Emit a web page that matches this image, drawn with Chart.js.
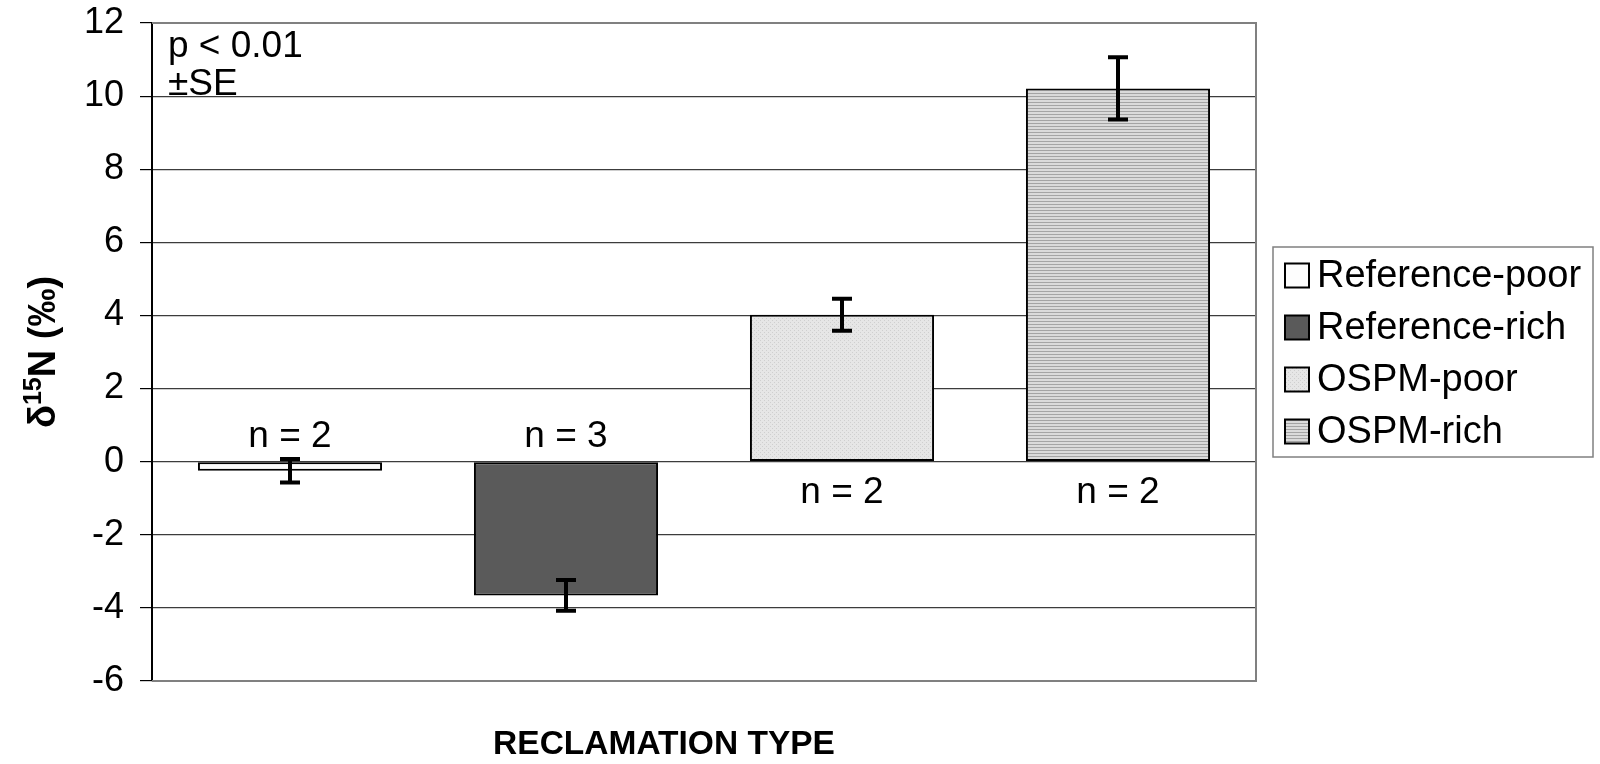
<!DOCTYPE html>
<html>
<head>
<meta charset="utf-8">
<script src="https://cdn.jsdelivr.net/npm/chart.js@4.4.0/dist/chart.umd.min.js"></script>
<style>
  html, body { margin: 0; padding: 0; background: #fff; }
  #wrap { width: 1600px; height: 764px; }
</style>
</head>
<body>
<div id="wrap"><canvas id="grafico" width="1600" height="764"></canvas></div>
<script>
// valores
const series = ['Reference-poor', 'Reference-rich', 'OSPM-poor', 'OSPM-rich'];
const meanValues = [-0.25, -3.66, 4.02, 10.21];
const seValues = [0.32, 0.42, 0.44, 0.85];
const nLabels = ['n = 2', 'n = 3', 'n = 2', 'n = 2'];
const notes = ['p < 0.01', '±SE'];
const yMin = -6, yMax = 12, yStep = 2;

const FONT = '"Liberation Sans", Arial, sans-serif';

// padrões de preenchimento (pontilhado e listrado)
function padraoPontos() {
  const c = document.createElement('canvas');
  c.width = 4; c.height = 4;
  const g = c.getContext('2d');
  g.fillStyle = '#e6e6e6'; g.fillRect(0, 0, 4, 4);
  g.fillStyle = '#cfcfcf'; g.fillRect(0, 0, 1, 1); g.fillRect(2, 2, 1, 1);
  return g.createPattern(c, 'repeat');
}
function padraoListras() {
  const c = document.createElement('canvas');
  c.width = 4; c.height = 3;
  const g = c.getContext('2d');
  g.fillStyle = '#dadada'; g.fillRect(0, 0, 4, 3);
  g.fillStyle = '#a4a4a4'; g.fillRect(0, 0, 4, 1);
  return g.createPattern(c, 'repeat');
}
const fills = ['#fdfdfd', '#5a5a5a', padraoPontos(), padraoListras()];

// moldura da área do gráfico, barras de erro, textos e legenda
const extras = {
  id: 'extras',
  beforeDatasetsDraw(chart) {
    const { ctx, chartArea: a } = chart;
    ctx.save();
    ctx.strokeStyle = '#808080';
    ctx.lineWidth = 2;
    ctx.beginPath();
    ctx.moveTo(a.left, a.top); ctx.lineTo(a.right, a.top);
    ctx.lineTo(a.right, a.bottom); ctx.lineTo(a.left, a.bottom);
    ctx.stroke();
    ctx.restore();
  },
  afterDatasetsDraw(chart) {
    const { ctx, chartArea: a, scales } = chart;
    const y = scales.y;
    const zero = y.getPixelForValue(0);
    ctx.save();
    ctx.strokeStyle = '#000';
    ctx.fillStyle = '#000';
    chart.data.datasets.forEach((ds, i) => {
      const bar = chart.getDatasetMeta(i).data[0];
      const v = ds.data[0];
      const yTop = y.getPixelForValue(v + seValues[i]);
      const yBot = y.getPixelForValue(v - seValues[i]);
      ctx.lineWidth = 4;
      ctx.beginPath();
      ctx.moveTo(bar.x, yTop); ctx.lineTo(bar.x, yBot);
      ctx.moveTo(bar.x - 10, yTop); ctx.lineTo(bar.x + 10, yTop);
      ctx.moveTo(bar.x - 10, yBot); ctx.lineTo(bar.x + 10, yBot);
      ctx.stroke();
      // rótulos n
      ctx.font = '37px ' + FONT;
      ctx.textAlign = 'center';
      ctx.textBaseline = 'middle';
      ctx.fillText(nLabels[i], bar.x, v < 0 ? zero - 25 : zero + 31);
    });

    // notas no canto
    ctx.textAlign = 'left';
    ctx.textBaseline = 'alphabetic';
    ctx.font = '37px ' + FONT;
    notes.forEach((t, k) => ctx.fillText(t, a.left + 16, a.top + 34 + k * 38));

    // título do eixo y com sobrescrito
    const partes = [
      { t: 'δ', f: 'bold 38px ' + FONT, dy: 0 },
      { t: '15', f: 'bold 25px ' + FONT, dy: -14 },
      { t: 'N (‰)', f: 'bold 38px ' + FONT, dy: 0 }
    ];
    let total = 0;
    partes.forEach(p => { ctx.font = p.f; p.w = ctx.measureText(p.t).width; total += p.w; });
    ctx.save();
    ctx.translate(55, (a.top + a.bottom) / 2);
    ctx.rotate(-Math.PI / 2);
    let px = -total / 2;
    partes.forEach(p => { ctx.font = p.f; ctx.fillText(p.t, px, p.dy); px += p.w; });
    ctx.restore();

    // título do eixo x
    ctx.font = 'bold 33.5px ' + FONT;
    ctx.textAlign = 'center';
    ctx.textBaseline = 'middle';
    ctx.fillText('RECLAMATION TYPE', (a.left + a.right) / 2 - 40, a.bottom + 64);

    // legenda com caixa
    const bx = a.right + 17, bw = 320, bh = 210;
    const by = (a.top + a.bottom) / 2 - bh / 2;
    ctx.strokeStyle = '#808080';
    ctx.lineWidth = 1.5;
    ctx.strokeRect(bx, by, bw, bh);
    ctx.textAlign = 'left';
    ctx.font = '38px ' + FONT;
    chart.data.datasets.forEach((ds, i) => {
      const cy = by + 28.5 + i * 52;
      ctx.fillStyle = ds.backgroundColor;
      ctx.fillRect(bx + 12, cy - 12, 24, 24);
      ctx.strokeStyle = '#000';
      ctx.lineWidth = 2;
      ctx.strokeRect(bx + 12, cy - 12, 24, 24);
      ctx.fillStyle = '#000';
      ctx.fillText(ds.label, bx + 44, cy + 1);
    });
    ctx.restore();
  }
};

new Chart(document.getElementById('grafico'), {
  type: 'bar',
  data: {
    labels: [''],
    datasets: series.map((s, i) => ({
      label: s,
      data: [meanValues[i]],
      backgroundColor: fills[i],
      borderColor: '#000',
      borderWidth: 2,
      borderSkipped: false,
      barPercentage: 0.667,
      categoryPercentage: 1
    }))
  },
  options: {
    responsive: false,
    animation: false,
    layout: { padding: { left: 0, top: 23, right: 344, bottom: 83 } },
    plugins: { legend: { display: false }, tooltip: { enabled: false } },
    scales: {
      x: { display: false },
      y: {
        min: yMin,
        max: yMax,
        ticks: { stepSize: yStep, color: '#000', font: { family: FONT, size: 36 }, padding: 16 },
        grid: { color: '#3c3c3c', lineWidth: 1.2, tickLength: 12, tickColor: '#000' },
        border: { color: '#000', width: 2 },
        afterFit(s) { s.width = 152; s.paddingTop = 0; s.paddingBottom = 0; }
      }
    }
  },
  plugins: [extras]
});
</script>
</body>
</html>
